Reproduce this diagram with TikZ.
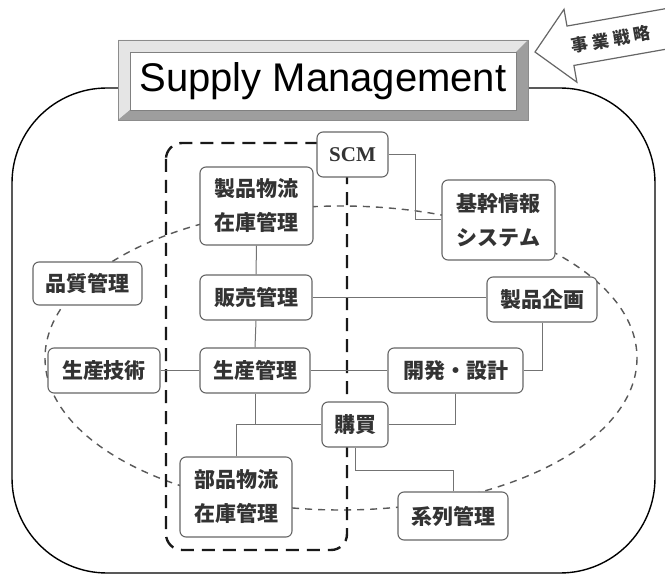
\documentclass[tikz,border=0pt]{standalone}
\usepackage{fontspec}
\setmainfont{Liberation Sans}
\newfontfamily\jp{Noto Sans CJK JP}
\newfontfamily\serifbf{Liberation Serif}
\begin{document}
\begin{tikzpicture}[x=1pt,y=-1pt,
  box/.style={draw=black!60, line width=1.1pt, rounded corners=6pt, fill=white,
    inner sep=0pt, text=black!80, font=\jp\bfseries\fontsize{21}{34}\selectfont, align=center},
  conn/.style={draw=black!55, line width=1pt},
  ell/.style={draw=black!65, line width=1.4pt, dash pattern=on 7pt off 6pt},
  thickdash/.style={draw=black!90, line width=2.4pt, dash pattern=on 13pt off 8pt, rounded corners=16pt}]
\clip (0,0) rectangle (665,575);
\useasboundingbox (0,0) rectangle (665,575);
\fill[white] (0,0) rectangle (665,575);
% big rounded frame
\draw[line width=1.4pt, rounded corners=95pt] (12,88) rectangle (655,573);
% title frame
\fill[black!22] (118,40) rectangle (528,120);
\fill[black!10] (118,40) -- (528,40) -- (516,52) -- (130,52) -- (130,110) -- (118,120) -- cycle;
\fill[black!38] (528,40) -- (528,120) -- (118,120) -- (130,110) -- (516,110) -- (516,52) -- cycle;
\draw[black!45, line width=0.8pt] (118,40) rectangle (528,120);
\node[draw=black!50, line width=0.8pt, fill=white, minimum width=386pt, minimum height=58pt, inner sep=0pt,
  font=\fontsize{40}{44}\selectfont] (title) at (323,81) {Supply Management};
% strategy arrow
\begin{scope}[shift={(535,52)}, rotate=10]
  \draw[black!60, fill=white, line width=1.2pt, line join=miter]
    (0,0) -- (36,-37) -- (36,-20) -- (160,-20) -- (160,20) -- (36,20) -- (36,37) -- cycle;
  \node[coordinate] (arrowtip) at (0,0) {};
  \node[font=\jp\bfseries\fontsize{17}{20}\selectfont, text=black!80, inner sep=0pt, rotate=10] (strategy) at (77,1) {事\hspace{4pt}業\hspace{4pt}戦\hspace{4pt}略};
\end{scope}
% dashed ellipse
\draw[ell] (341,358) ellipse [x radius=296, y radius=152];
% thick dashed region
\draw[thickdash] (166,143) rectangle (347,550);
% nodes
\node[box, minimum width=71pt, minimum height=45pt, font=\serifbf\bfseries\fontsize{21}{24}\selectfont] (scm) at (352.5,154.5) {SCM};
\node[box, minimum width=113pt, minimum height=80pt] (kikan) at (498.5,220) {基幹情報\\システム};
\node[box, minimum width=110pt, minimum height=45pt] (kikaku) at (542,299.5) {製品企画};
\node[box, minimum width=113pt, minimum height=78pt] (seihin) at (256.5,206) {製品物流\\在庫管理};
\node[box, minimum width=109pt, minimum height=43pt] (hinshitsu) at (87.5,283.5) {品質管理};
\node[box, minimum width=112pt, minimum height=45pt] (hanbai) at (256,297.5) {販売管理};
\node[box, minimum width=112pt, minimum height=45pt] (gijutsu) at (104,370.5) {生産技術};
\node[box, minimum width=110pt, minimum height=45pt] (seisan) at (255,370.5) {生産管理};
\node[box, minimum width=135pt, minimum height=45pt] (kaihatsu) at (455.5,370.5) {開発・設計};
\node[box, minimum width=66pt, minimum height=45pt] (kobai) at (355,424.5) {購買};
\node[box, minimum width=112pt, minimum height=80pt] (buhin) at (236,497) {部品物流\\在庫管理};
\node[box, minimum width=110pt, minimum height=48pt] (keiretsu) at (453,516) {系列管理};
% connectors
\draw[conn] (scm.east) -- ++(27,0) |- (kikan.west);
\draw[conn] (seihin.south) -- (hanbai.north);
\draw[conn] (hanbai.east) -- (hanbai.east -| kikaku.west);
\draw[conn] (hanbai.south) -- (seisan.north);
\draw[conn] (gijutsu.east) -- (seisan.west);
\draw[conn] (seisan.east) -- (kaihatsu.west);
\draw[conn] (kikaku.south) |- (kaihatsu.east);
\draw[conn] (kaihatsu.south) |- (kobai.east);
\draw[conn] (kobai.west) -| (buhin.north);
\draw[conn] (seisan.south) -- (seisan.south |- kobai.west);
\draw[conn] (kobai.south) -- ++(0,23) -| (keiretsu.north);
\end{tikzpicture}
\end{document}
